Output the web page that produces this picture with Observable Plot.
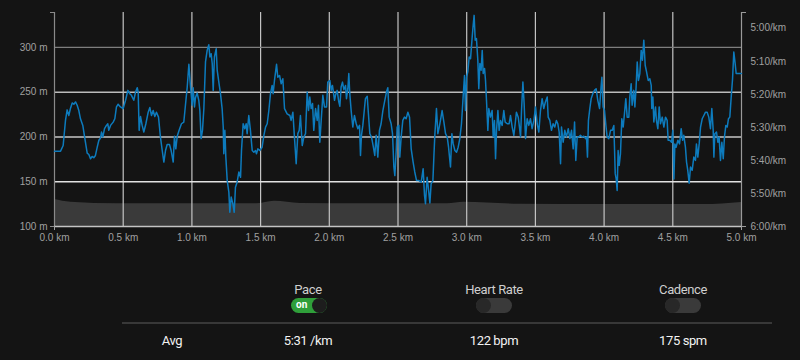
<!DOCTYPE html>
<html><head><meta charset="utf-8">
<script src="https://cdn.jsdelivr.net/npm/d3@7"></script>
<script src="https://cdn.jsdelivr.net/npm/@observablehq/plot@0.6"></script>
<style>
html,body{margin:0;padding:0;background:#141414;}
#wrap{position:relative;width:800px;height:360px;overflow:hidden;background:#141414;}
#chart{position:absolute;left:0;top:0;}
.lbl{position:absolute;transform:translate(-50%,-50%);font-family:Roboto,"Noto Sans",sans-serif;font-size:13px;letter-spacing:-0.4px;white-space:nowrap;}
.head{color:#cfcfcf;}
.val{color:#f2f2f2;}
.sep{position:absolute;left:122px;top:322px;width:650px;height:2px;background:#383838;}
.tog{position:absolute;width:36px;height:15px;border-radius:8px;background:#3a3a3a;}
.tog i{position:absolute;top:0;width:15px;height:15px;border-radius:50%;background:#282828;}
.tog.on{background:#2f9f3a;}
.tog.on i{right:0;background:#1d1d1d;}
.tog.off i{left:0;}
.tog span{position:absolute;left:5px;top:1px;font:bold 10px Roboto,sans-serif;color:#fff;}
</style></head>
<body>
<div id="wrap">
  <div id="chart"></div>
  <div class="lbl head" style="left:308px;top:289px">Pace</div>
  <div class="lbl head" style="left:494px;top:289px">Heart Rate</div>
  <div class="lbl head" style="left:683px;top:289px">Cadence</div>
  <div class="tog on" style="left:291px;top:298px"><span>on</span><i></i></div>
  <div class="tog off" style="left:476px;top:298px"><i></i></div>
  <div class="tog off" style="left:665px;top:298px"><i></i></div>
  <div class="sep"></div>
  <div class="lbl val" style="left:172px;top:340px">Avg</div>
  <div class="lbl val" style="left:308px;top:340px">5:31 /km</div>
  <div class="lbl val" style="left:494px;top:340px">122 bpm</div>
  <div class="lbl val" style="left:683px;top:340px">175 spm</div>
</div>
<script>
// ---- data ----
const kmTicks = [0, 0.5, 1, 1.5, 2, 2.5, 3, 3.5, 4, 4.5, 5];
const elevTicks = [100, 150, 200, 250, 300];
const paceTicks = [300, 310, 320, 330, 340, 350, 360]; // seconds per km, 5:00 .. 6:00

// elevation profile (distance m, elevation m)
const elevDist = [0, 120, 460, 1000, 1470, 1600, 1790, 2300, 2860, 2980, 3390, 4000, 4720, 5000];
const elevM = [130.1, 127.1, 125.3, 125.3, 125.3, 128.2, 125.8, 125.3, 125.3, 127.1, 124.8, 124.5, 124.5, 126.8];

// pace trace: distance (m) and pace (s/km)
const paceDist = [
0,44,63,80,92,104,116,129,141,153,
165,177,189,206,221,238,250,262,274,286,
298,311,323,335,342,352,364,378,388,395,
408,427,439,451,463,480,500,517,534,548,
560,577,590,602,609,616,626,638,650,665,
682,694,706,718,730,742,757,771,784,796,
808,820,837,849,864,873,883,893,907,924,
941,953,966,978,990,1002,1009,1019,1026,1038,
1050,1058,1067,1077,1087,1099,1111,1123,1131,1140,
1148,1155,1164,1177,1184,1196,1208,1220,1228,1232,
1240,1247,1257,1269,1276,1286,1298,1308,1317,1329,
1342,1354,1361,1373,1385,1395,1402,1414,1426,1439,
1451,1463,1470,1480,1494,1511,1524,1536,1548,1560,
1572,1584,1591,1601,1616,1625,1638,1650,1662,1674,
1693,1713,1722,1735,1747,1759,1771,1781,1790,1803,
1815,1827,1839,1849,1858,1868,1878,1887,1900,1912,
1921,1931,1941,1953,1965,1980,1989,2004,2014,2023,
2038,2045,2057,2069,2077,2086,2096,2106,2118,2125,
2135,2142,2149,2159,2171,2183,2196,2208,2220,2227,
2234,2244,2256,2263,2276,2283,2295,2307,2319,2331,
2341,2353,2365,2377,2390,2402,2416,2426,2436,2450,
2460,2470,2477,2487,2494,2506,2513,2523,2535,2547,
2559,2572,2584,2596,2610,2622,2635,2652,2669,2683,
2693,2700,2712,2724,2732,2741,2754,2761,2768,2780,
2790,2800,2809,2821,2834,2846,2858,2868,2875,2882,
2892,2902,2914,2926,2938,2950,2962,2974,2984,2991,
2999,3008,3018,
3028,3040,3047,3054,3062,3071,3081,3088,3096,3105,
3113,3120,3130,3137,3144,3154,3161,3173,3185,3193,
3202,3210,3217,3227,3236,3246,3258,3270,3280,3295,
3309,3319,3331,3343,3353,3362,3375,3384,3392,3399,
3409,3418,3428,3440,3452,3464,3476,3489,3501,3513,
3525,3537,3549,3561,3573,3586,3593,3605,3617,3629,
3641,3653,3663,3673,3683,3690,3702,3714,3726,3739,
3751,3763,3775,3785,3794,3804,3816,3828,3840,3852,
3865,3872,3879,3886,3896,3906,3918,3930,3942,3954,
3967,3976,3984,3993,4003,4013,4022,4034,4047,
4059,4071,4081,4088,4095,4102,4110,4119,4129,4139,
4148,4158,4168,4180,4187,4197,4204,4216,4224,4233,
4241,4250,4260,4270,4279,4289,4299,4309,4321,4333,
4343,4347,4355,4362,4374,4381,4391,4401,4410,4423,
4435,4447,4459,4466,4478,4491,4500,4508,4515,4524,
4537,4549,4561,4571,4580,4592,4600,4609,4619,4629,
4641,4653,4665,4672,4682,4692,4702,4714,4726,4738,
4750,4762,4774,4784,4794,4799,4806,4818,4828,4837,
4847,4857,4867,4876,4886,4896,4905,4915,4925,4935,
4944,4954,4961,4981,5000
];
const paceSec = [
337.2,337.2,335.5,327.9,324.7,326.4,324.3,322.6,323.0,322.3,
323.3,324.9,327.4,329.4,333.4,337.8,338.2,339.5,338.8,339.2,
338.5,336.0,333.9,333.2,331.4,332.9,330.4,329.4,328.9,330.9,
329.4,328.4,327.4,323.8,323.0,323.8,324.3,321.8,318.8,319.8,
320.3,321.8,319.3,318.0,319.3,330.9,326.7,329.4,331.4,328.9,
325.4,324.0,326.4,324.9,326.7,325.4,326.9,332.9,337.0,340.5,
337.0,335.2,335.2,337.0,340.5,332.7,336.5,332.7,330.9,328.9,
328.4,323.3,317.8,310.9,317.8,323.3,318.0,323.8,321.0,319.6,
321.8,324.9,333.4,330.9,324.3,310.2,306.7,305.0,308.7,307.7,
310.7,318.8,308.7,306.2,312.7,316.3,319.8,324.3,329.9,338.0,
330.9,339.0,346.1,349.6,355.7,351.1,353.1,355.7,348.1,346.6,
343.5,345.1,337.0,328.9,330.4,328.9,331.9,326.4,330.9,337.0,
337.5,337.0,338.0,336.5,337.0,336.0,332.4,329.9,328.9,324.9,
319.8,317.3,319.8,315.8,310.9,314.8,314.3,316.8,315.3,324.3,
325.9,326.4,327.9,325.4,333.4,341.0,331.9,330.9,326.4,335.5,
332.9,331.9,319.3,324.9,320.8,324.3,322.8,330.9,324.3,327.9,
323.3,334.5,327.9,320.3,323.8,323.8,316.3,315.8,318.8,317.3,
321.8,320.3,318.8,322.3,323.6,317.8,316.3,318.6,317.3,321.3,
318.3,313.7,319.8,324.9,329.9,326.4,328.9,330.4,329.4,338.5,
332.4,329.4,324.3,321.3,320.6,324.9,331.9,332.9,335.5,338.5,
332.4,339.0,330.9,328.9,324.9,322.3,319.3,318.0,326.9,328.9,
331.9,342.0,344.6,337.0,329.9,329.4,339.0,332.9,327.9,326.9,
327.4,325.4,326.9,336.5,340.5,343.5,346.1,346.1,346.6,342.5,
350.6,353.1,345.1,349.6,352.9,347.1,346.1,339.0,332.4,324.3,
331.9,329.9,327.9,324.9,328.4,331.9,332.9,336.0,339.0,342.0,
331.9,335.0,337.0,337.5,336.0,333.4,328.9,320.8,314.3,324.9,
314.8,313.2,308.7,
309.2,302.6,299.1,296.1,303.6,303.1,309.7,318.3,310.7,312.7,
306.7,313.7,312.2,315.8,321.8,330.9,324.3,326.9,324.9,332.9,
327.9,339.5,330.9,324.9,330.9,327.9,329.4,324.9,328.4,328.9,
328.9,326.4,329.9,332.4,328.9,325.4,326.9,329.9,332.9,324.9,
316.3,322.8,333.4,327.4,329.4,327.4,330.4,327.9,323.8,328.9,
331.4,324.9,321.3,324.3,322.3,320.8,326.9,327.9,330.9,328.9,
329.9,327.9,328.9,331.4,341.0,329.9,334.5,330.9,332.9,330.4,
333.4,330.9,336.5,328.4,340.0,332.9,332.9,332.4,332.9,332.7,
333.4,332.9,339.0,327.9,324.3,321.3,319.8,318.8,318.3,321.8,
324.3,318.8,314.8,323.8,324.9,329.4,332.9,333.4,330.9,
330.9,329.4,344.0,345.6,349.1,337.0,341.5,338.0,327.4,329.9,
325.9,321.3,326.9,326.9,320.8,316.8,323.3,318.8,323.8,317.8,
310.2,315.8,313.7,306.7,309.7,303.6,311.2,313.2,315.8,315.3,
317.3,324.3,320.8,328.4,323.8,327.9,330.4,323.8,328.9,326.9,
329.9,326.9,327.9,333.9,333.9,334.5,330.9,345.6,335.0,336.0,
333.9,335.0,330.4,333.9,332.4,336.0,340.5,343.0,346.9,342.0,
343.0,339.0,340.0,335.0,339.0,335.0,329.9,327.4,326.4,325.4,
325.4,326.9,330.4,324.3,330.9,339.0,331.9,331.4,334.5,332.9,
340.0,334.5,339.5,332.9,329.4,329.9,327.4,326.9,320.8,315.3,
307.2,310.7,313.7,313.7,313.7
];

// ---- build ----
const PACE_K = 3.69; // metres of left axis per second of pace (dual-axis alignment)
const toM = p => 100 + (360 - p) * PACE_K;
const fmtPace = m => {
  const s = Math.round(360 - (m - 100) / PACE_K);
  return Math.floor(s / 60) + ":" + String(s % 60).padStart(2, "0") + "/km";
};
if (paceDist.length !== paceSec.length) console.warn("length mismatch", paceDist.length, paceSec.length);
const n = Math.min(paceDist.length, paceSec.length);
const paceData = d3.range(n).map(i => ({km: paceDist[i] / 1000, m: toM(paceSec[i])}));
const elevData = elevDist.map((d, i) => ({km: d / 1000, m: elevM[i]}));
const hColor = {300: "#7e7e7e", 250: "#bcbcbc", 200: "#c6c6c6", 150: "#e2e2e2"};

const chart = Plot.plot({
  width: 800, height: 250,
  marginLeft: 54, marginRight: 59, marginTop: 12, marginBottom: 24,
  style: {background: "transparent", fontFamily: "'Liberation Sans', Arial, sans-serif", fontSize: "10px", color: "#a0a0a0", overflow: "visible"},
  x: {domain: [0, 5], label: null},
  y: {domain: [100, 339], label: null},
  color: {type: "identity"},
  marks: [
    Plot.areaY(elevData, {x: "km", y1: 100, y2: "m", fill: "#3a3a3a", curve: "monotone-x"}),
    Plot.ruleX(kmTicks.slice(1, -1), {stroke: "#c4c4c4", strokeWidth: 1.2}),
    Plot.ruleY(elevTicks.slice(1), {stroke: d => hColor[d], strokeWidth: 1.4}),
    Plot.ruleX([0], {stroke: "#8a8a8a", strokeWidth: 1.2}),
    Plot.ruleX([5], {stroke: "#9a9a9a", strokeWidth: 1.2}),
    Plot.ruleY([100], {stroke: "#c4c4c4", strokeWidth: 1.5}),
    Plot.lineY(paceData, {x: "km", y: "m", stroke: "#0d7bbd", strokeWidth: 1.5}),
    Plot.axisX(kmTicks, {tickSize: 0, tickPadding: 7, tickFormat: d => d.toFixed(1) + " km", fill: "#a0a0a0", label: null}),
    Plot.axisX([0, 5], {tickSize: 4, tickFormat: () => "", stroke: "#a0a0a0", label: null}),
    Plot.axisY(elevTicks, {anchor: "left", tickSize: 0, tickPadding: 7, tickFormat: d => d + " m", fill: "#a0a0a0", label: null}),
    Plot.axisY([100, 339], {anchor: "left", tickSize: 4, tickFormat: () => "", stroke: "#8a8a8a", label: null}),
    Plot.axisY(paceTicks.map(toM), {anchor: "right", tickSize: 0, tickPadding: 9, tickFormat: fmtPace, fill: "#a0a0a0", label: null}),
    Plot.axisY([100, 339], {anchor: "right", tickSize: 4, tickFormat: () => "", stroke: "#9a9a9a", label: null})
  ]
});
document.getElementById("chart").appendChild(chart);
</script>
</body></html>
